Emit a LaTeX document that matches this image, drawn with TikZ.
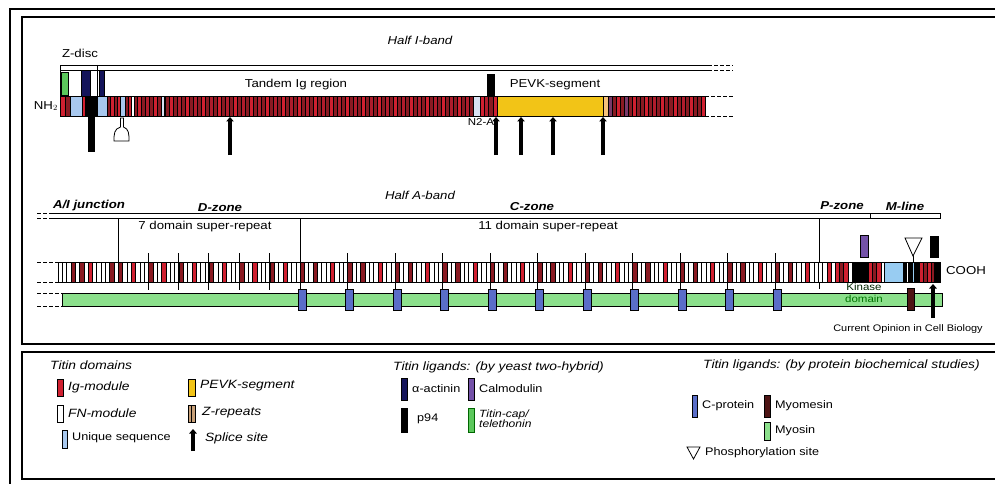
\documentclass[tikz,border=0pt]{standalone}
\usepackage{fontspec}
\setmainfont{Liberation Sans}[FakeStretch=1.15]
\usetikzlibrary{arrows.meta}
\definecolor{igr}{HTML}{D02030}
\definecolor{igd}{HTML}{8A1A22}
\definecolor{igm}{HTML}{B01C2C}
\definecolor{ub}{HTML}{A8C8EE}
\definecolor{ubl}{HTML}{D8E2F2}
\definecolor{ubm}{HTML}{98CCF2}
\definecolor{pevk}{HTML}{F2C417}
\definecolor{pevo}{HTML}{F5C27A}
\definecolor{purp}{HTML}{7A3A6A}
\definecolor{myo}{HTML}{8CE08C}
\definecolor{tcap}{HTML}{5CC85C}
\definecolor{actn}{HTML}{14145A}
\definecolor{calm}{HTML}{7452A8}
\definecolor{cprot}{HTML}{5A6EC8}
\definecolor{myom}{HTML}{4E1414}
\definecolor{zrep}{HTML}{C8A078}
\colorlet{fn}{white}

\begin{document}
\begin{tikzpicture}[x=1pt, y=-1pt,
  lbl/.style={inner sep=0pt, font=\fontsize{11.5}{12}\selectfont},
  ilbl/.style={inner sep=0pt, font=\fontsize{11.5}{12}\selectfont\itshape},
  zone/.style={inner sep=0pt, font=\fontsize{11.5}{12}\selectfont\bfseries\itshape},
  leg/.style={inner sep=0pt, anchor=west, font=\fontsize{11}{11}\selectfont},
  ileg/.style={inner sep=0pt, anchor=west, font=\fontsize{12}{11}\selectfont\itshape},
  mod/.style={draw=black, line width=0.3pt},
  lig/.style={draw=black, line width=0.6pt},
  splice/.style={line width=3.3pt, -{Triangle[width=7.5pt,length=4.5pt]}},
  frame/.style={line width=1.2pt},
  ext/.style={dashed, dash pattern=on 4pt off 2pt}
]
\useasboundingbox (0,0) rectangle (995,484);

\draw[frame] (10,490) -- (10,9) -- (1000,9);
\draw[frame] (1000,17) -- (22,17) -- (22,344) -- (1000,344);
\draw[frame] (1000,352) -- (22,352) -- (22,479) -- (1000,479);

\node[ilbl] (halfI) at (420,40) {Half I-band};
\node[lbl] (zdisc) at (80,53) {Z-disc};
\draw[line width=0.9pt] (60,96) -- (60,65) -- (708,65);
\draw[line width=0.9pt] (60,70) -- (708,70);
\draw[ext, line width=0.9pt] (708,65) -- (733,65) (708,70) -- (733,70);
\draw[line width=0.6pt] (97,65) -- (97,96);

\filldraw[lig, fill=tcap] (61,72) rectangle (68,95);
\filldraw[lig, fill=actn] (81,70) rectangle (90,96);
\filldraw[lig, fill=actn] (99,70) rectangle (104,96);
\filldraw[lig, fill=black] (487,74) rectangle (494,96);

\foreach \x/\w/\c in {60/5/igr, 65/5/igd, 70/12/ub, 82/3/igr, 85/12/black, 97/10/ub,
    107/3/igd, 110/4/igr, 114/3/igd, 117/3/igr, 120/5/ub, 125/3/igd, 128/3/igr,
    131/3/fn, 134/3/igd}
  \filldraw[mod, fill=\c] (\x,96) rectangle ++(\w,20);
\foreach \r in {0,...,20}
  \foreach \c [count=\i from 0] in {igr,igd,igm,igd}
    \filldraw[mod, fill=\c] ({137+16*\r+4*\i},96) rectangle ++(4,20);
\filldraw[mod, fill=ubl] (161,96) rectangle ++(3,20);
\foreach \x/\w/\c in {473/7/ubl, 480/4/igr, 484/4/igm, 488/5/igd, 493/4/igr,
    497/106/pevk, 603/5/pevo}
  \filldraw[mod, fill=\c] (\x,96) rectangle ++(\w,20);
\foreach \c [count=\i from 0] in {purp,igd,igr,igd,purp,igd,igr,igd,igd,igr,igd,igm,
    igd,igr,igd,igd,igr,igd,igm,igd,igr,igd,igd,igr}
  \filldraw[mod, fill=\c] ({608+4.04*\i},96) rectangle ++(4.04,20);
\draw[line width=0.8pt] (60,96) rectangle (705,116);
\draw[ext, line width=0.8pt] (705,96) -- (733,96) (705,116) -- (733,116);

\node[lbl] (tandem) at (296,85) {Tandem Ig region};
\node[lbl] (pevkseg) at (555,85) {PEVK-segment};
\node[lbl, anchor=east] (nh2) at (58,106) {NH$_2$};
\node[lbl, font=\fontsize{10}{10}\selectfont] (n2a) at (481,122) {N2-A};

\draw[line width=7pt] (91,116) -- (91,152);
\draw[line width=0.8pt, fill=white] (120.5,118) -- (123.5,118) -- (123.5,127)
  .. controls (129,129) and (129,134) .. (129,141) -- (114,141)
  .. controls (114,134) and (114,129) .. (120.5,127) -- cycle;
\foreach \x in {230,496,521,553,603}
  \draw[splice] (\x,155) -- (\x,117);

\node[ilbl] (halfA) at (420,195) {Half A-band};
\node[zone] (aij) at (89,206) {A/I junction};
\node[zone] (dzone) at (220,208) {D-zone};
\node[zone] (czone) at (532,207) {C-zone};
\node[zone] (pzone) at (842,206) {P-zone};
\node[zone] (mline) at (905,206) {M-line};
\draw[line width=0.9pt] (53,213) -- (940,213) -- (940,218) -- (53,218);
\draw[ext, line width=0.9pt] (37,213) -- (53,213) (37,218) -- (53,218);
\draw[line width=0.6pt] (870,213) -- (870,218);
\node[lbl] (sr7) at (205,227) {7 domain super-repeat};
\node[lbl] (sr11) at (548,227) {11 domain super-repeat};
\draw[line width=0.7pt] (118,218) -- (118,262);
\draw[line width=0.7pt] (300,218) -- (300,289);
\draw[line width=0.7pt] (819,218) -- (819,289);

\filldraw[line width=0.8pt, fill=myo] (62,293) rectangle (942,306);
\draw[ext, line width=0.8pt] (37,293) -- (62,293) (37,306) -- (62,306);

\foreach \c [count=\i from 0] in {fn,fn,fn,igd,fn,igd,fn,igr,fn,fn,fn,fn,igd,fn}
  \filldraw[mod, fill=\c] ({58+4.286*\i},262) rectangle ++(4.286,20);
\foreach \r in {0,...,5}
  \foreach \c [count=\i from 0] in {igd,fn,fn,igr,fn,fn,fn}
    \filldraw[mod, fill=\c] ({118+30.33*\r+4.333*\i},262) rectangle ++(4.333,20);
\foreach \r in {0,...,10}
  \foreach \c [count=\i from 0] in {igd,fn,fn,igd,fn,fn,fn,igr,fn,fn,fn}
    \filldraw[mod, fill=\c] ({300+47.5*\r+4.318*\i},262) rectangle ++(4.318,20);
\foreach \c [count=\i from 0] in {fn,igr,fn,igr,igd,igr,fn}
  \filldraw[mod, fill=\c] ({822.5+4.214*\i},262) rectangle ++(4.214,20);
\foreach \x/\w/\c in {852/16/black, 868/4/igr, 872/4/igd, 876/5/igr, 881/3/fn,
    884/19/ubm, 903/3/black, 906/2/fn, 908/4/black, 912/2/ubm, 914/5/black,
    919/4/igr, 923/4/igd, 927/4/igr, 931/3/igd, 934/6/black}
  \filldraw[mod, fill=\c] (\x,262) rectangle ++(\w,20);
\draw[line width=0.8pt] (58,262) rectangle (940,282);
\draw[ext, line width=0.8pt] (37,262) -- (58,262) (37,282) -- (58,282);

\foreach \x in {148,178,208,239,269}
  \draw[line width=0.7pt] (\x,253) -- (\x,290);
\foreach \k in {1,...,10}
  \draw[line width=0.7pt] ({300+47.5*\k},253) -- ++(0,36);
\foreach \k in {0,...,10}
  \filldraw[lig, fill=cprot] ({298+47.5*\k},289) rectangle ++(8,21);

\filldraw[lig, fill=calm] (860,235) rectangle (868,257);
\draw[line width=0.7pt] (913,262) -- (913,254);
\draw[line width=0.8pt, fill=white] (905,238) -- (922,238) -- (913,256) -- cycle;
\filldraw[lig, fill=black] (930,236) rectangle (938,257);
\filldraw[lig, fill=myom] (907,288) rectangle (914,310);
\draw[splice] (933,318) -- (933,284);
\node[lbl, font=\fontsize{10}{10}\selectfont, text=black!85!green] (kinase) at (864,287) {Kinase};
\node[lbl, font=\fontsize{10}{10}\selectfont, text=green!45!black] (domain) at (864,299) {domain};
\node[lbl] (cooh) at (966,271) {COOH};
\node[lbl, font=\fontsize{9.5}{10}\selectfont] (credit) at (908,329) {Current Opinion in Cell Biology};

\node[ileg] (tdom) at (50,365) {Titin domains};
\filldraw[lig, fill=igr] (57,379) rectangle (63,396);
\node[ileg] (igmod) at (68,387) {Ig-module};
\filldraw[lig, fill=fn] (57,405) rectangle (63,422);
\node[ileg] (fnmod) at (68,413) {FN-module};
\filldraw[lig, fill=ub] (62,430) rectangle (67,448);
\node[leg] (uniq) at (72,438) {Unique sequence};
\filldraw[lig, fill=pevk] (188,379) rectangle (195,396);
\node[ileg] (pevkleg) at (200,386) {PEVK-segment};
\filldraw[lig, fill=zrep] (188,405) rectangle (195,422);
\draw[line width=0.6pt] (191.5,405) -- (191.5,422);
\node[ileg] (zrepleg) at (202,413) {Z-repeats};
\draw[splice] (193,451) -- (193,429);
\node[ileg] (splleg) at (205,438) {Splice site};

\node[ileg] (yth) at (393,367) {Titin ligands: (by yeast two-hybrid)};
\filldraw[lig, fill=actn] (401,378) rectangle (407,400);
\node[leg] (actleg) at (412,389) {α-actinin};
\filldraw[lig, fill=calm] (468,378) rectangle (474,400);
\node[leg] (calleg) at (479,389) {Calmodulin};
\filldraw[lig, fill=black] (401,408) rectangle (407,432);
\node[leg] (p94leg) at (417,419) {p94};
\filldraw[lig, draw=green!40!black, fill=tcap] (468,408) rectangle (474,432);
\node[ileg, align=left, font=\fontsize{10.5}{10}\selectfont\itshape] (tcapleg) at (479,419) {Titin-cap/\\telethonin};

\node[ileg] (bio) at (703,365) {Titin ligands: (by protein biochemical studies)};
\filldraw[lig, fill=cprot] (692,395) rectangle (697,417);
\node[leg] (cpleg) at (702,406) {C-protein};
\filldraw[lig, fill=myom] (764,395) rectangle (770,417);
\node[leg] (mmleg) at (775,406) {Myomesin};
\filldraw[lig, fill=myo] (764,422) rectangle (770,440);
\node[leg] (myleg) at (775,431) {Myosin};
\draw[line width=0.8pt] (687,447) -- (700,447) -- (693.5,459) -- cycle;
\node[leg] (phleg) at (705,453) {Phosphorylation site};
\end{tikzpicture}
\end{document}
